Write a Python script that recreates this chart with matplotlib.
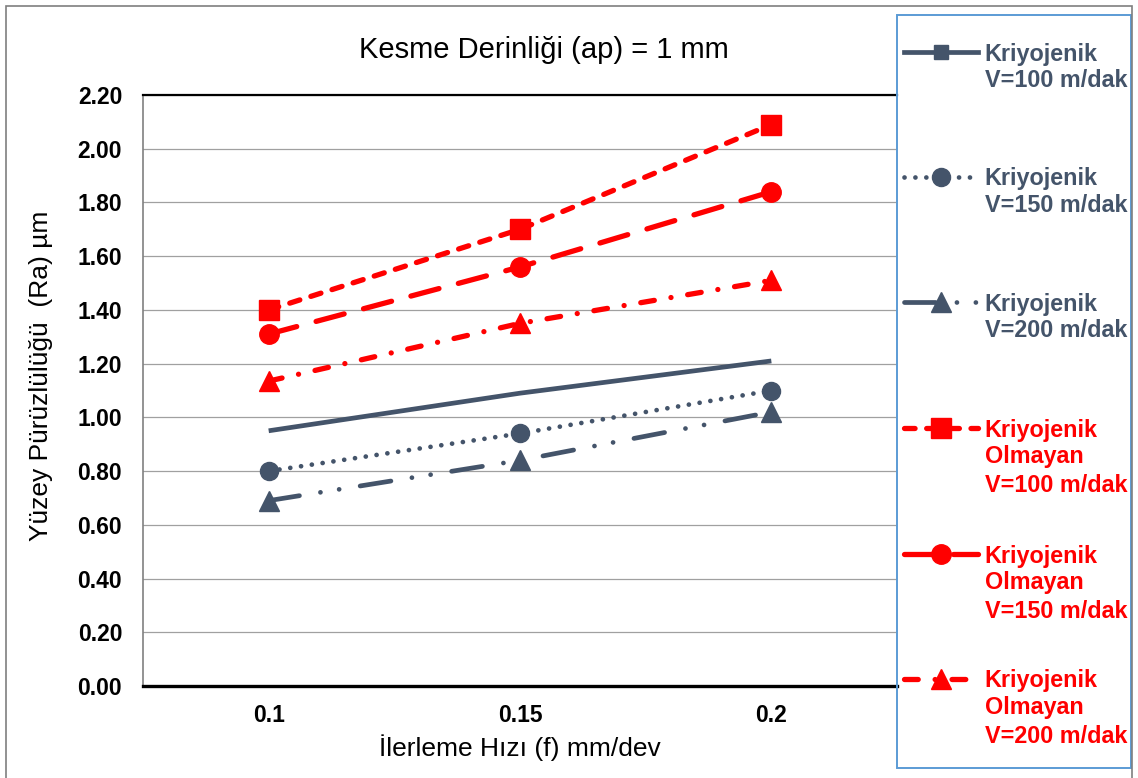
import numpy as np
import matplotlib
matplotlib.use('Agg')
import matplotlib.pyplot as plt
from matplotlib.lines import Line2D
from matplotlib.patches import Rectangle

#%%

params = {
   'font.family': ['Liberation Sans', 'DejaVu Sans'],
   'font.size': 16,
   'axes.linewidth': 1,
   'xtick.labelsize': 16.5,
   'ytick.labelsize': 16.5,
   }
plt.rcParams.update(params)

#%%

# feed rate categories and surface roughness Ra (um)
feed = ['0.1', '0.15', '0.2']
cryo_100 = [0.95, 1.09, 1.21]
cryo_150 = [0.80, 0.94, 1.10]
cryo_200 = [0.69, 0.84, 1.02]
dry_100 = [1.40, 1.70, 2.09]
dry_150 = [1.31, 1.56, 1.84]
dry_200 = [1.135, 1.35, 1.51]

yticks = [0.0, 0.2, 0.4, 0.6, 0.8, 1.0, 1.2, 1.4, 1.6, 1.8, 2.0, 2.2]

labels = ['Kriyojenik\nV=100 m/dak', 'Kriyojenik\nV=150 m/dak',
          'Kriyojenik\nV=200 m/dak', 'Kriyojenik\nOlmayan\nV=100 m/dak',
          'Kriyojenik\nOlmayan\nV=150 m/dak', 'Kriyojenik\nOlmayan\nV=200 m/dak']

navy = '#44546A'
red = '#FF0000'

#%%

W, H = 1138, 778
fig = plt.figure(figsize=(W / 100, H / 100), dpi=100)
ax = fig.add_axes([143 / W, 1 - 686 / H, (897 - 143) / W, (686 - 95) / H])

x = np.arange(len(feed))

ax.plot(x, cryo_100, color=navy, lw=3.4, solid_capstyle='butt', zorder=3)
l2, = ax.plot(x, cryo_150, color=navy, lw=3.4, ls=(0, (0.01, 2.3)),
              dash_capstyle='round', marker='o', ms=13, zorder=3)
l3, = ax.plot(x, cryo_200, color=navy, lw=3.4, ls=(0, (6.6, 4.5, 0.01, 4, 0.01, 4.5)),
              dash_capstyle='round', marker='^', ms=15, zorder=3)
l4, = ax.plot(x, dry_100, color=red, lw=3.8, ls=(0, (2.0, 2.2)),
              dash_capstyle='round', marker='s', ms=14, zorder=3)
l5, = ax.plot(x, dry_150, color=red, lw=3.8, ls=(0, (5.5, 3.8)),
              dash_capstyle='round', marker='o', ms=14, zorder=3)
l6, = ax.plot(x, dry_200, color=red, lw=3.8, ls=(0, (2.6, 3.2, 0.01, 3.2)),
              dash_capstyle='round', marker='^', ms=15, zorder=3)

# the solid series shows its marker only in the legend
l1 = Line2D([], [], color=navy, lw=3.4, marker='s', ms=10)

ax.set_xlim(-0.5, len(feed) - 0.5)
ax.set_ylim(0, 2.2)
ax.set_xticks(x)
ax.set_xticklabels(feed, fontweight='bold')
ax.set_yticks(yticks)
ax.set_yticklabels(['%.2f' % v for v in yticks], fontweight='bold')
ax.tick_params(length=0)
ax.tick_params(axis='y', pad=15)
ax.tick_params(axis='x', pad=13)

ax.grid(axis='y', color='#A0A0A0', lw=0.9)
ax.set_axisbelow(True)
ax.spines['top'].set_color('black')
ax.spines['top'].set_linewidth(1.6)
ax.spines['bottom'].set_color('black')
ax.spines['bottom'].set_linewidth(2.4)
ax.spines['left'].set_color('#808080')
ax.spines['left'].set_linewidth(1.2)
ax.spines['right'].set_visible(False)

fig.text(520 / W, 1 - 748 / H, 'İlerleme Hızı (f) mm/dev', fontsize=19,
         ha='center', va='center')
fig.text(41 / W, 1 - 376 / H, 'Yüzey Pürüzlülüğü  (Ra) µm', fontsize=19,
         ha='center', va='center', rotation=90)
fig.text(544 / W, 1 - 50 / H, 'Kesme Derinliği (ap) = 1 mm', fontsize=21,
         ha='center', va='center')

#%%

# legend: one entry each; the handle sits on the first line of the label,
# the remaining lines are written underneath
handles = [l1, l2, l3, l4, l5, l6]
leg_y = [54, 179, 304, 430, 556, 681]
for h, lab, yc in zip(handles, labels, leg_y):
    first, rest = lab.split('\n', 1)
    fig.legend(handles=[h], labels=[first], loc='center left',
               bbox_to_anchor=(904 / W, 1 - yc / H), frameon=False,
               borderpad=0, borderaxespad=0, handlelength=3.15,
               handletextpad=0.3, labelcolor='linecolor',
               prop={'weight': 'bold', 'size': 16.8})
    fig.text(985 / W, 1 - (yc + 15) / H, rest, color=h.get_color(),
             fontsize=16.8, fontweight='bold', ha='left', va='top',
             linespacing=1.35)

fig.patches.append(Rectangle((897 / W, 1 - 768 / H), (1131 - 897) / W, (768 - 15) / H,
                             transform=fig.transFigure, fill=False,
                             edgecolor='#5B9BD5', lw=1.4, zorder=5))
fig.patches.append(Rectangle((6 / W, -0.01), (1132 - 6) / W, 1.01 - 6 / H,
                             transform=fig.transFigure, fill=False,
                             edgecolor='#7F7F7F', lw=1.2, zorder=5))

plt.savefig('out.png', dpi=100)
